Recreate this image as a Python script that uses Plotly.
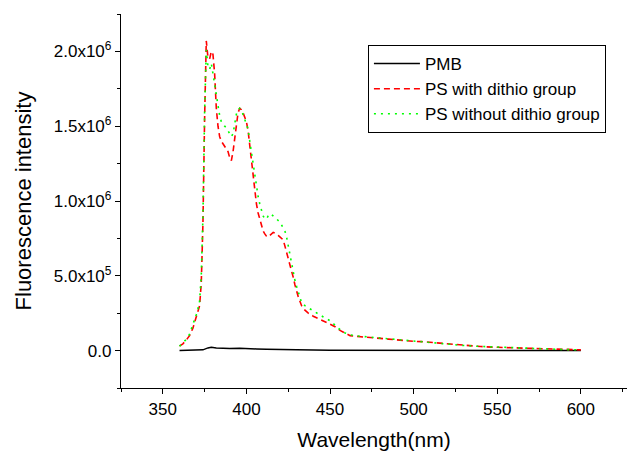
import plotly.graph_objects as go

# ---- data (intensity in units of 1e6) ----
wl_ps = [360, 362, 364, 366, 368, 370, 371, 372, 373, 374, 375, 376, 377, 378, 379, 380,
         381, 382, 383, 384, 385, 386, 387, 388, 389, 390, 391, 392, 393, 394, 395, 396,
         397, 398, 399, 400, 401, 402, 403, 404, 405, 406, 407, 408, 409, 410, 411, 412,
         413, 414, 415, 416, 417, 418, 419, 420, 421, 422, 423, 424, 425, 426, 427, 428,
         429, 430, 431, 432, 433, 435, 437, 440, 443, 446, 450, 453, 456, 459, 462, 466,
         470, 475, 480, 485, 490, 495, 500, 505, 510, 515, 520, 525, 530, 540, 550, 560,
         570, 580, 590, 600]
ps_with = [0.03, 0.045, 0.07, 0.10, 0.15, 0.22, 0.26, 0.30, 0.45, 0.85, 1.55, 2.07, 1.96, 1.95, 2.00, 1.98,
           1.85, 1.62, 1.50, 1.43, 1.40, 1.38, 1.37, 1.35, 1.33, 1.29, 1.27, 1.33, 1.42, 1.52, 1.59, 1.62,
           1.61, 1.59, 1.56, 1.53, 1.47, 1.37, 1.25, 1.15, 1.07, 0.98, 0.92, 0.88, 0.85, 0.80, 0.78, 0.765,
           0.76, 0.77, 0.78, 0.79, 0.785, 0.78, 0.77, 0.76, 0.75, 0.74, 0.70, 0.66, 0.62, 0.58, 0.53, 0.49,
           0.44, 0.39, 0.36, 0.33, 0.30, 0.27, 0.25, 0.23, 0.215, 0.20, 0.18, 0.16, 0.135, 0.115, 0.10, 0.095,
           0.092, 0.089, 0.083, 0.077, 0.072, 0.066, 0.062, 0.060, 0.055, 0.050, 0.045, 0.038, 0.033, 0.027, 0.022, 0.018,
           0.013, 0.010, 0.007, 0.005]
ps_without = [0.03, 0.05, 0.075, 0.11, 0.17, 0.24, 0.28, 0.33, 0.50, 0.90, 1.60, 2.01, 1.90, 1.88, 1.92, 1.85,
              1.78, 1.71, 1.63, 1.57, 1.53, 1.51, 1.50, 1.49, 1.47, 1.44, 1.43, 1.45, 1.52, 1.58, 1.61, 1.62,
              1.61, 1.58, 1.55, 1.52, 1.48, 1.40, 1.32, 1.25, 1.17, 1.10, 1.03, 0.98, 0.93, 0.90, 0.88, 0.88,
              0.90, 0.915, 0.91, 0.90, 0.895, 0.885, 0.875, 0.86, 0.84, 0.82, 0.80, 0.76, 0.70, 0.65, 0.59, 0.53,
              0.47, 0.43, 0.39, 0.35, 0.32, 0.30, 0.285, 0.265, 0.245, 0.225, 0.20, 0.17, 0.14, 0.118, 0.105, 0.098,
              0.094, 0.090, 0.084, 0.078, 0.073, 0.067, 0.063, 0.061, 0.056, 0.051, 0.046, 0.039, 0.034, 0.028, 0.023, 0.018,
              0.013, 0.010, 0.007, 0.005]

wl_pmb = [360, 365, 370, 374, 377, 379, 382, 386, 390, 396, 400, 406, 412, 418, 430, 450, 500, 550, 600]
pmb = [0.0, 0.0, 0.0, 0.005, 0.018, 0.022, 0.017, 0.013, 0.014, 0.016, 0.013, 0.011, 0.009, 0.007, 0.005, 0.003, 0.002, 0.001, 0.0]

y_tickvals = [0, 0.5, 1.0, 1.5, 2.0]
y_ticktext = ["0.0", "5.0x10<sup>5</sup>", "1.0x10<sup>6</sup>", "1.5x10<sup>6</sup>", "2.0x10<sup>6</sup>"]
x_tickvals = [350, 400, 450, 500, 550, 600]

SCALE = 1e6
FONT = "Arial, 'Liberation Sans', Helvetica, sans-serif"

fig = go.Figure()
fig.add_trace(go.Scatter(x=wl_pmb, y=[v * SCALE for v in pmb], mode="lines", name="PMB",
                         line=dict(color="black", width=1.5)))
fig.add_trace(go.Scatter(x=wl_ps, y=[v * SCALE for v in ps_with], mode="lines", name="PS with dithio group",
                         line=dict(color="#FF0000", width=1.6, dash="6px,4px")))
fig.add_trace(go.Scatter(x=wl_ps, y=[v * SCALE for v in ps_without], mode="lines", name="PS without dithio group",
                         line=dict(color="#00FF00", width=1.6, dash="2px,5px")))

fig.update_layout(
    width=627, height=452,
    margin=dict(l=121, r=0, t=14, b=64),
    paper_bgcolor="white", plot_bgcolor="white",
    font=dict(family=FONT, color="black", size=17),
    showlegend=True,
    legend=dict(x=0.488, y=0.917, xanchor="left", yanchor="top",
                bgcolor="white", bordercolor="black", borderwidth=1,
                font=dict(family=FONT, size=17, color="black"),
                itemwidth=46, tracegroupgap=0),
    xaxis=dict(range=[325, 627.6], showline=True, linecolor="black", linewidth=1.3,
               showgrid=False, zeroline=False, ticks="outside", ticklen=5, tickwidth=1.3,
               tickcolor="black", tickvals=x_tickvals,
               minor=dict(ticks="outside", ticklen=3, tickwidth=1.3, tickcolor="black",
                          tickvals=[325, 375, 425, 475, 525, 575, 625]),
               title=dict(text="Wavelength(nm)", font=dict(size=21), standoff=14),
               tickfont=dict(size=17)),
    yaxis=dict(range=[-0.25 * SCALE, 2.25 * SCALE], showline=True, linecolor="black", linewidth=1.3,
               showgrid=False, zeroline=False, ticks="outside", ticklen=5, tickwidth=1.3,
               tickcolor="black", tickvals=[v * SCALE for v in y_tickvals], ticktext=y_ticktext,
               minor=dict(ticks="outside", ticklen=3, tickwidth=1.3, tickcolor="black",
                          tickvals=[v * SCALE for v in [-0.25, 0.25, 0.75, 1.25, 1.75, 2.25]]),
               title=dict(text="Fluorescence intensity", font=dict(size=22), standoff=16),
               tickfont=dict(size=17)),
)

fig.write_html("out.html")
